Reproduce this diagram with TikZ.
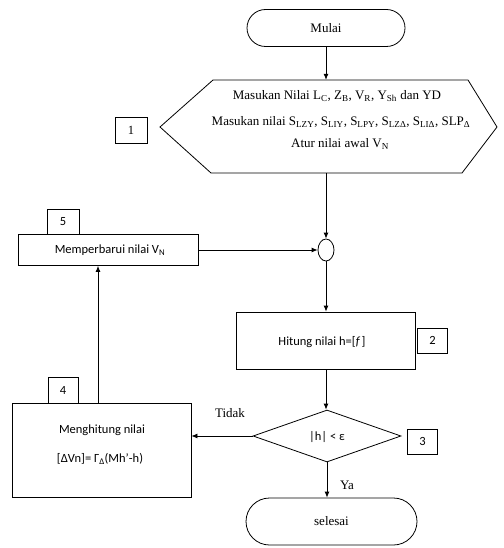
\documentclass[tikz,border=0pt]{standalone}
\usepackage{fontspec}
\setmainfont{Liberation Serif}
\newfontfamily\calib{Carlito}
\usetikzlibrary{arrows.meta,shapes.geometric,shapes.misc}
\begin{document}
\begin{tikzpicture}[x=1pt,y=-1pt,
  every node/.style={inner sep=0pt},
  arr/.style={line width=0.8pt,-{Latex[length=6pt,width=5pt]}},
  term/.style={draw, line width=0.8pt, rounded rectangle, font=\fontsize{13}{15}\selectfont},
  proc/.style={draw, line width=0.8pt},
  stxt/.style={font=\calib\fontsize{12.5}{15}\selectfont},
  rtxt/.style={font=\fontsize{13}{15}\selectfont},
  num/.style={draw, line width=0.8pt, font=\calib\fontsize{12.5}{15}\selectfont, minimum width=30pt, minimum height=25pt},
]
\useasboundingbox (0,0) rectangle (503,548);
% start
\node[term, minimum width=158pt, minimum height=37pt] (mulai) at (326,28) {Mulai};
% input hexagon
\node (hex) at (327,126.5) [minimum width=337pt, minimum height=93pt] {};
\coordinate (h1) at (160,127);
\coordinate (h2) at (213,80);
\coordinate (h3) at (468,80);
\coordinate (h4) at (497,127);
\coordinate (h5) at (462,173);
\coordinate (h6) at (211,173);
\draw[line width=0.8pt] (h1) -- (h2) -- (h3) -- (h4) -- (h5) -- (h6) -- cycle;
\node[rtxt] (l1) at (337,96) {Masukan Nilai L\textsubscript{C}, Z\textsubscript{B}, V\textsubscript{R}, Y\textsubscript{Sh} dan YD};
\node[rtxt] (l2) at (341,122) {Masukan nilai S\textsubscript{LZY}, S\textsubscript{LIY}, S\textsubscript{LPY}, S\textsubscript{LZΔ}, S\textsubscript{LIΔ}, SLP\textsubscript{Δ}};
\node[rtxt] (l3) at (340,144) {Atur nilai awal V\textsubscript{N}};
\node[num, minimum width=32pt, minimum height=26pt, font=\fontsize{12.5}{15}\selectfont] (n1) at (131,130) {1};
% join circle
\node[ellipse, draw, line width=0.8pt, minimum width=16pt, minimum height=22pt] (join) at (326,250) {};
% update box
\node[proc, minimum width=180pt, minimum height=31pt] (box5) at (108,250) {};
\node[stxt] (t5) at (110,250) {Memperbarui nilai V\textsubscript{N}};
\node[num, minimum width=32pt, minimum height=25pt] (n5) at (63,221.5) {5};
% compute h
\node[proc, minimum width=179pt, minimum height=57pt] (box2) at (326,340.5) {};
\node[stxt] (t2) at (322,342) {Hitung nilai h=[{\itshape f}\,]};
\node[num] (n2) at (432.5,340.5) {2};
% decision
\node[diamond, draw, line width=0.8pt, minimum width=148pt, minimum height=52pt] (dec) at (327,436) {};
\node[stxt] (td) at (327,437) {|h| < ε};
\node[num] (n3) at (422.5,441.5) {3};
% correction box
\node[proc, minimum width=179pt, minimum height=94pt] (box4) at (101.5,450) {};
\node[stxt] (t4a) at (102,430) {Menghitung nilai};
\node[stxt] (t4b) at (100,459) {[ΔVn]= Γ\textsubscript{Δ}(Mh’-h)};
\node[num, minimum height=26pt] (n4) at (63,390) {4};
% end
\node[term, minimum width=171pt, minimum height=47pt] (selesai) at (331.5,521.5) {selesai};
% labels
\node[rtxt] (tidak) at (230,413) {Tidak};
\node[rtxt] (ya) at (347,485) {Ya};
% connectors
\coordinate (upx) at (98,0);
\draw[arr] (mulai.south) -- (mulai.south |- hex.north);
\draw[arr] (join |- hex.south) -- (join.north);
\draw[arr] (box5.east) -- (join.west);
\draw[arr] (join.south) -- (box2.north);
\draw[arr] (box2.south) -- (box2.south |- dec.north);
\draw[arr] (dec.west) -- (dec.west -| box4.east);
\draw[arr] (box4.north -| upx) -- (box5.south -| upx);
\draw[arr] (dec.south) -- (dec.south |- selesai.north);
\end{tikzpicture}
\end{document}
